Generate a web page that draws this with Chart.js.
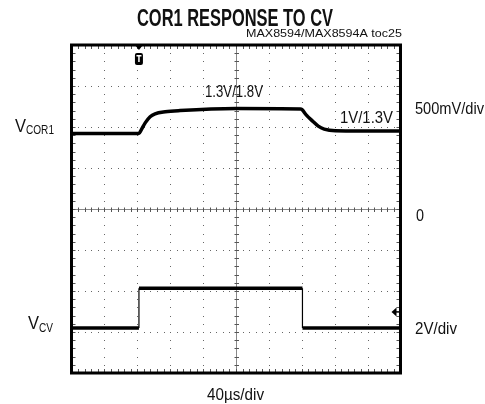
<!DOCTYPE html>
<html>
<head>
<meta charset="utf-8">
<script src="https://cdn.jsdelivr.net/npm/chart.js@4.4.1/dist/chart.umd.min.js"></script>
<style>
  body { margin: 0; background: #fff; }
  canvas { display: block; }
</style>
</head>
<body>
<canvas id="scope" width="485" height="404"></canvas>
<script>
// time axis in divisions (40us/div), vertical axis in divisions, 0 = centre line
const corX = [0, 2.05, 2.12, 2.24, 2.39, 2.54, 2.85, 3.3, 5.0, 6.96, 7.0, 7.14, 7.32, 7.5, 7.68, 8.02, 10];
const corY = [1.84, 1.84, 1.93, 2.10, 2.25, 2.32, 2.37, 2.40, 2.45, 2.44, 2.43, 2.29, 2.15, 2.02, 1.95, 1.91, 1.90];
const cvX = [0, 2.05, 2.05, 7.02, 7.02, 10];
const cvY = [-2.9, -2.9, -1.93, -1.93, -2.9, -2.9];
const trigPos = 2.05;
const gndMarker = -2.51;

const toPts = (xs, ys) => xs.map((x, i) => ({ x: x, y: ys[i] }));

// draw text squeezed/stretched to a given width
function fitText(ctx, txt, x, y, w, font) {
    ctx.font = font;
    const m = ctx.measureText(txt).width;
    ctx.save();
    ctx.translate(x, y);
    ctx.scale(w / m, 1);
    ctx.textAlign = 'left';
    ctx.textBaseline = 'alphabetic';
    ctx.fillText(txt, 0, 0);
    ctx.restore();
}

const NARROW = '"Liberation Sans Narrow", "Liberation Sans", Arial, sans-serif';

const scopeGrid = {
    id: 'scopeGrid',
    beforeDatasetsDraw(chart) {
        const { ctx, chartArea: a, scales: { x, y } } = chart;
        ctx.save();
        ctx.fillStyle = '#666';
        // dotted graticule
        for (let d = 1; d < 10; d++) {
            if (d === 5) continue;
            const px = Math.round(x.getPixelForValue(d));
            for (let v = -4; v <= 4.001; v += 0.2) {
                ctx.fillRect(px, Math.round(y.getPixelForValue(v)), 1, 1);
            }
        }
        for (let d = -3; d <= 3; d++) {
            if (d === 0) continue;
            const py = Math.round(y.getPixelForValue(d));
            for (let t = 0; t <= 10.001; t += 0.2) {
                ctx.fillRect(Math.round(x.getPixelForValue(t)), py, 1, 1);
            }
        }
        // centre cross with minor ticks
        const cx = Math.round(x.getPixelForValue(5)) + 0.5;
        const cy = Math.round(y.getPixelForValue(0)) + 0.5;
        ctx.strokeStyle = '#888';
        ctx.lineWidth = 1;
        ctx.beginPath();
        ctx.moveTo(a.left, cy); ctx.lineTo(a.right, cy);
        ctx.moveTo(cx, a.top); ctx.lineTo(cx, a.bottom);
        ctx.stroke();
        ctx.strokeStyle = '#555';
        ctx.beginPath();
        for (let t = 0.2; t < 10; t += 0.2) {
            const px = Math.round(x.getPixelForValue(t)) + 0.5;
            ctx.moveTo(px, cy - 2); ctx.lineTo(px, cy + 2.5);
            ctx.moveTo(px, a.top); ctx.lineTo(px, a.top + 4);
            ctx.moveTo(px, a.bottom); ctx.lineTo(px, a.bottom - 4);
        }
        for (let v = -3.8; v < 4; v += 0.2) {
            const py = Math.round(y.getPixelForValue(v)) + 0.5;
            ctx.moveTo(cx - 2, py); ctx.lineTo(cx + 2.5, py);
            ctx.moveTo(a.left, py); ctx.lineTo(a.left + 4, py);
            ctx.moveTo(a.right, py); ctx.lineTo(a.right - 4, py);
        }
        ctx.stroke();
        ctx.restore();
    },
    afterDatasetsDraw(chart) {
        const { ctx, chartArea: a, scales: { x, y } } = chart;
        ctx.save();
        ctx.strokeStyle = '#000';
        ctx.lineWidth = 3;
        ctx.strokeRect(a.left, a.top, a.right - a.left, a.bottom - a.top);

        // trigger marker
        const tx = x.getPixelForValue(trigPos);
        ctx.fillStyle = '#000';
        ctx.beginPath();
        ctx.moveTo(tx - 4, a.top); ctx.lineTo(tx + 4, a.top); ctx.lineTo(tx, a.top + 5);
        ctx.closePath(); ctx.fill();
        ctx.beginPath();
        ctx.roundRect(tx - 4, a.top + 8, 8, 12, 2);
        ctx.fill();
        ctx.fillStyle = '#fff';
        ctx.fillRect(tx - 2.5, a.top + 10, 5, 1.5);
        ctx.fillRect(tx - 0.75, a.top + 10, 1.5, 7);

        // channel 2 level marker
        const gy = y.getPixelForValue(gndMarker);
        ctx.fillStyle = '#000';
        ctx.beginPath();
        ctx.moveTo(a.right - 9, gy); ctx.lineTo(a.right - 4, gy - 4.5); ctx.lineTo(a.right - 4, gy + 4.5);
        ctx.closePath(); ctx.fill();
        ctx.fillRect(a.right - 5, gy - 0.75, 4, 1.5);

        // texts
        ctx.fillStyle = '#111';
        fitText(ctx, 'COR1 RESPONSE TO CV', 137, 26, 196, 'bold 23px ' + NARROW);
        fitText(ctx, 'MAX8594/MAX8594A toc25', 246, 37, 156, '11px ' + NARROW);
        fitText(ctx, '1.3V/1.8V', 205, 97, 58, '16px ' + NARROW);
        fitText(ctx, '1V/1.3V', 340, 123, 53, '16px ' + NARROW);
        fitText(ctx, '500mV/div', 415, 114, 69, '16px ' + NARROW);
        fitText(ctx, '0', 416, 221, 8, '16px ' + NARROW);
        fitText(ctx, '2V/div', 415, 334, 42, '16px ' + NARROW);
        fitText(ctx, '40\u00b5s/div', 207, 400, 57, '16px ' + NARROW);
        fitText(ctx, 'V', 15, 132, 11, '19px ' + NARROW);
        fitText(ctx, 'COR1', 26, 134, 28, '13px ' + NARROW);
        fitText(ctx, 'V', 28, 329, 11, '19px ' + NARROW);
        fitText(ctx, 'CV', 39, 332, 14, '13px ' + NARROW);
        ctx.restore();
    }
};

const thinVertical = c => (c.p0.parsed.x === c.p1.parsed.x ? 1.2 : undefined);

new Chart(document.getElementById('scope'), {
    type: 'line',
    data: {
        datasets: [
            {
                label: 'VCOR1',
                data: toPts(corX, corY),
                borderColor: '#000',
                borderWidth: 3.5,
                cubicInterpolationMode: 'monotone'
            },
            {
                label: 'VCV',
                data: toPts(cvX, cvY),
                borderColor: '#000',
                borderWidth: 3.5,
                segment: { borderWidth: thinVertical }
            }
        ]
    },
    options: {
        responsive: false,
        animation: false,
        layout: { padding: { left: 71.5, right: 84.5, top: 45, bottom: 31 } },
        elements: { point: { radius: 0 }, line: { tension: 0 } },
        plugins: { legend: { display: false }, tooltip: { enabled: false } },
        scales: {
            x: { type: 'linear', min: 0, max: 10, display: false },
            y: { type: 'linear', min: -4, max: 4, display: false }
        }
    },
    plugins: [scopeGrid]
});
</script>
</body>
</html>
